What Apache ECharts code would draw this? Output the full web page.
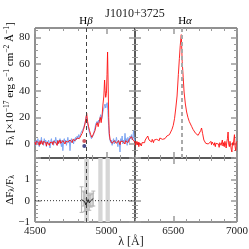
<!DOCTYPE html>
<html><head><meta charset="utf-8">
<script src="https://cdn.jsdelivr.net/npm/echarts@6/dist/echarts.min.js"></script>
<style>html,body{margin:0;padding:0;background:#fff}#c{width:249px;height:249px}</style>
</head><body><div id="c"></div>
<script>
// ---- data ----
const blueWaveL = [4500,4505,4510,4515,4520,4525,4530,4535,4540,4545,4550,4555,4560,4565,4570,4575,4580,4585,4590,4595,4600,4605,4610,4615,4620,4625,4630,4635,4640,4645,4650,4655,4660,4665,4670,4675,4680,4685,4690,4695,4700,4705,4710,4715,4720,4725,4730,4735,4740,4745,4750,4755,4760,4765,4770,4775,4780,4785,4790,4795,4800,4805,4810,4815,4820,4825,4830,4835,4840,4845,4850,4855,4860,4865,4870,4875,4880,4885,4890,4895,4900,4905,4910,4915,4920,4925,4930,4935,4940,4945,4950,4955,4960,4965,4970,4975,4980,4985,4990,4995,5000,5005,5010,5015,5020,5025,5030,5035,5040,5045,5050,5055,5060,5065,5070,5075,5080,5085,5090,5095,5100,5105,5110,5115,5120,5125,5130,5135,5140,5145,5150,5155,5160,5165,5170,5175,5180,5185,5190,5195,5200];
const blueFluxL = [2,-1,3,0,4,1,-2,3,1,5,0,2,-1,4,1,3,-2,2,0,3,1,-3,2,4,0,2,-1,3,1,5,2,-1,3,0,2,4,1,-2,3,-5,2,4,1,3,-1,2,5,1,3,-5,2,4,1,3,0,4,2,5,3,6,4,7,5,6,8,7,10,9,12,14,16,18,21,17,14,11,9,7,6,4,3,5,7,10,12,15,14,17,15,18,16,20,22,18,20,24,26,28,30,27,29,31,25,14,6,3,1,3,-1,2,4,0,3,1,5,2,-2,3,1,-6,4,2,6,0,3,1,8,2,4,-1,5,3,1,6,4,7,3,5,10,2,4];
const redWaveL = [4500,4505,4510,4515,4520,4525,4530,4535,4540,4545,4550,4555,4560,4565,4570,4575,4580,4585,4590,4595,4600,4605,4610,4615,4620,4625,4630,4635,4640,4645,4650,4655,4660,4665,4670,4675,4680,4685,4690,4695,4700,4705,4710,4715,4720,4725,4730,4735,4740,4745,4750,4755,4760,4765,4770,4775,4780,4785,4790,4795,4800,
  4810,4820,4830,4840,4850,4856,4862,4868,4875,4882,4890,4898,4905,4912,4920,4928,4935,4942,4950,4957,4963,4970,4976,4982,4987,4991,4995,5000,5004,5008,5012,5016,5020,5026,
  5030,5035,5040,5045,5050,5055,5060,5065,5070,5075,5080,5085,5090,5095,5100,5105,5110,5115,5120,5125,5130,5135,5140,5145,5150,5155,5160,5165,5170,5175,5180,5185,5190,5195,5200];
const redFluxL = [1.5,-0.5,2,0.5,3,1,-1,2,0,2.5,1,-0.5,2,0.5,3,1,-1.5,1.5,0.5,2.5,-1,1,2.5,0,1.5,-0.5,2,0.5,3,1,2,-1,2.5,0.5,1.5,3,0.5,2,-0.5,2.5,1,3,0,2,1,3.5,1.5,2.5,0.5,3,1.5,2.5,1,3.5,2,3,2.5,4,3,4.5,4,
  4,6,8,11,15,19,23,17,13,10,7,5,3.5,6,10,14,16,13,17,20,16,22,30,36,48,40,35,38,52,69,45,20,8,3,
  1.5,3,0.5,2,-0.5,2.5,1,3,0.5,2,-1,2.5,1,-0.5,2,3,0.5,2,1,3,0,2.5,1.5,3,1,2.5,3.5,2,4,5.5,4.5,3,2,3.5,1.5];
const redWaveR = [6200,6205,6210,6215,6220,6225,6230,6235,6240,6245,6250,6255,6260,6265,6270,6275,6280,6285,6290,6295,6300,6305,6310,6315,6320,6325,6330,6335,6340,6345,6350,6355,6360,6365,6370,6375,6380,6385,6390,6395,6400,6405,6410,6415,6420,6425,6430,6435,6440,6445,6450,6455,6460,6465,6470,6475,6480,
  6490,6500,6510,6520,6530,6540,6548,6555,6563,6570,6578,6585,6595,6605,6615,6625,6635,6645,6655,6665,6675,6685,6695,6705,6715,6722,6730,6740,
  6750,6755,6760,6765,6770,6775,6780,6785,6790,6795,6800,6805,6810,6815,6820,6825,6830,6835,6840,6845,6850,6855,6860,6865,6870,6875,6880,6885,6890,6895,6900,6905,6910,6915,6920,6925,6930,6935,6940,6945,6950,6955,6960,6965,6970,6975,6980,6985,6990,6995,7000];
const redFluxR = [2,-1,0.5,2,-0.5,1.5,-2,1,2.5,0,-1.5,1,2,0,2.5,1,3,1.5,3.5,4.5,6,4.5,3,4,2,3,1.5,3.5,2,1,3,2,4,2.5,3.5,2,4,3,2.5,4.5,3,4,5,3.5,4.5,3,5,4,5.5,4.5,6,5,6.5,5.5,7,8,8.5,
  11,14,19,27,36,52,64,74,82,62,50,39,30,24,20,17,15,13,11,9.5,8,7,6.5,7,10,12,8,3,
  2,0.5,1.5,-0.5,2,0,1,-1.5,1,2,-0.5,1.5,0,2.5,-1,1,-2,0.5,2,-1,1.5,0,-2.5,1,2,-1,0.5,3,-1.5,1,-2,2,0,-3,1.5,4,9,0,-2,2,0.5,-4,-6,1,-1,3,7,-2,-5,1,2];
const dotWave = [4845, 4845];
const dotFlux = [2.2, -1.5];
const resWave = [4826,4838,4848,4856,4864,4872,4880,4890,4900,4908];
const resVal  = [0.05,0.1,-0.05,-0.2,-0.15,0.05,-0.1,0.0,0.05,0.1];
const resErr  = [0.6,0.35,0.45,0.3,0.25,0.3,0.35,0.3,0.3,0.35];
const maskBands = [[4845,4878],[4943,4973],[4994,5024]];
const lineHb = 4861, lineHa = 6563;
const xMajorL = [4500,5000], xMinorL = [4600,4700,4800,4900,5100,5200];
const xMajorR = [6500,7000], xMinorR = [6300,6400,6600,6700,6800,6900];
const yMajorT = [0,20,40,60,80], yMinorT = [-10,-5,5,10,15,25,30,35,45,50,55,65,70,75,85];
const yMajorB = [-1,0,1,2], yMinorB = [-0.8,-0.6,-0.4,-0.2,0.2,0.4,0.6,0.8,1.2,1.4,1.6,1.8];
const yLabelsB = [-1,0,1];

const zip = (a,b) => a.map((v,i)=>[v,b[i]]);
const FONT = 'Liberation Serif';
const TICKC = '#9a9a9a';
const fmt = v => (v<0? '\u2212'+Math.abs(v) : String(v));

const grids = [
  {left:35, top:28, width:100, height:130},
  {left:135, top:28, width:102, height:130},
  {left:35, top:158, width:100, height:64},
  {left:135, top:158, width:102, height:64}
].map(g => Object.assign(g, {show:true, borderColor:'#222', borderWidth:1, containLabel:false, outerBoundsMode:'none'}));

const xAxes = [], yAxes = [];
function addX(gi, min, max, majors, minors, labels) {
  const base = {type:'value', gridIndex:gi, min, max, splitLine:{show:false}, axisLine:{show:false, onZero:false}};
  const idx = xAxes.length;
  xAxes.push(Object.assign({}, base, {position:'bottom',
    axisTick:{show:true, inside:true, length:6, customValues:majors, lineStyle:{color:TICKC, width:1.5}},
    axisLabel:{show:!!labels, customValues:labels||[], fontFamily:FONT, fontSize:11, color:'#222', margin:4, formatter:fmt}}));
  xAxes.push(Object.assign({}, base, {position:'bottom',
    axisTick:{show:true, inside:true, length:3, customValues:minors, lineStyle:{color:TICKC, width:1}}, axisLabel:{show:false}}));
  xAxes.push(Object.assign({}, base, {position:'top',
    axisTick:{show:true, inside:true, length:6, customValues:majors, lineStyle:{color:TICKC, width:1.5}}, axisLabel:{show:false}}));
  xAxes.push(Object.assign({}, base, {position:'top',
    axisTick:{show:true, inside:true, length:3, customValues:minors, lineStyle:{color:TICKC, width:1}}, axisLabel:{show:false}}));
  return idx;
}
function addY(gi, min, max, majors, minors, labels) {
  const base = {type:'value', gridIndex:gi, min, max, splitLine:{show:false}, axisLine:{show:false, onZero:false}};
  const idx = yAxes.length;
  yAxes.push(Object.assign({}, base, {position:'left',
    axisTick:{show:true, inside:true, length:6, customValues:majors, lineStyle:{color:TICKC, width:1.5}},
    axisLabel:{show:!!labels, customValues:labels||[], fontFamily:FONT, fontSize:11, color:'#222', margin:5, formatter:fmt}}));
  yAxes.push(Object.assign({}, base, {position:'left',
    axisTick:{show:true, inside:true, length:3, customValues:minors, lineStyle:{color:TICKC, width:1}}, axisLabel:{show:false}}));
  yAxes.push(Object.assign({}, base, {position:'right',
    axisTick:{show:true, inside:true, length:6, customValues:majors, lineStyle:{color:TICKC, width:1.5}}, axisLabel:{show:false}}));
  yAxes.push(Object.assign({}, base, {position:'right',
    axisTick:{show:true, inside:true, length:3, customValues:minors, lineStyle:{color:TICKC, width:1}}, axisLabel:{show:false}}));
  return idx;
}
const xTL = addX(0, 4500, 5200, xMajorL, xMinorL, null);
const xTR = addX(1, 6200, 7000, xMajorR, xMinorR, null);
const xBL = addX(2, 4500, 5200, xMajorL, xMinorL, xMajorL);
const xBR = addX(3, 6200, 7000, xMajorR, xMinorR, xMajorR);
const yTL = addY(0, -10.5, 87, yMajorT, yMinorT, yMajorT);
const yTR = addY(1, -10.5, 87, yMajorT, yMinorT, null);
const yBL = addY(2, -1, 2, yMajorB, yMinorB, yLabelsB);
const yBR = addY(3, -1, 2, yMajorB, yMinorB, null);

const noSym = {showSymbol:false, symbol:'none', animation:false};
const series = [
  Object.assign({type:'line', name:'blueL', xAxisIndex:xTL, yAxisIndex:yTL, data:zip(blueWaveL, blueFluxL),
    lineStyle:{color:'#7ea6f2', width:1}, z:2,
    markLine:{silent:true, symbol:'none', label:{show:false}, lineStyle:{color:'#444', type:[4,3], width:1}, data:[{xAxis:lineHb}]}}, noSym),
  Object.assign({type:'line', name:'redL', xAxisIndex:xTL, yAxisIndex:yTL, data:zip(redWaveL, redFluxL),
    lineStyle:{color:'#ff0f0f', width:1, opacity:0.9}, z:3}, noSym),
  Object.assign({type:'line', name:'redR', xAxisIndex:xTR, yAxisIndex:yTR, data:zip(redWaveR, redFluxR),
    lineStyle:{color:'#ff0f0f', width:1, opacity:0.9}, z:3,
    markLine:{silent:true, symbol:'none', label:{show:false}, lineStyle:{color:'#aaa', type:[4,3], width:2}, data:[{xAxis:lineHa}]}}, noSym),
  {type:'scatter', xAxisIndex:xTL, yAxisIndex:yTL, symbolSize:4, animation:false, z:4,
    data:[{value:[dotWave[0],dotFlux[0]], itemStyle:{color:'#c0303a'}},{value:[dotWave[1],dotFlux[1]], itemStyle:{color:'#1a2370'}}]},
  Object.assign({type:'line', name:'zero', xAxisIndex:xBL, yAxisIndex:yBL, data:[[4500,0],[5200,0]],
    lineStyle:{color:'#333', width:1, type:[1,2]}, z:2,
    markArea:{silent:true, itemStyle:{color:'#d6d6d6'}, data: maskBands.map(b=>[{xAxis:b[0]},{xAxis:b[1]}])},
    markLine:{silent:true, symbol:'none', label:{show:false}, lineStyle:{color:'#444', type:[4,3], width:1}, data:[{xAxis:lineHb}]}}, noSym),
  {type:'custom', xAxisIndex:xBL, yAxisIndex:yBL, animation:false, z:3,
    data: resWave.map((w,i)=>[w,resVal[i],resErr[i]]),
    renderItem(params, api){
      const x=api.value(0), y=api.value(1), e=api.value(2);
      const t=api.coord([x,y+e]), b=api.coord([x,y-e]);
      const st={stroke:'#b5b5b5', lineWidth:1};
      return {type:'group', children:[
        {type:'line', shape:{x1:t[0],y1:t[1],x2:b[0],y2:b[1]}, style:st},
        {type:'line', shape:{x1:t[0]-2,y1:t[1],x2:t[0]+2,y2:t[1]}, style:st},
        {type:'line', shape:{x1:b[0]-2,y1:b[1],x2:b[0]+2,y2:b[1]}, style:st}
      ]};
    }},
  Object.assign({type:'line', xAxisIndex:xBL, yAxisIndex:yBL, data:zip(resWave,resVal),
    lineStyle:{color:'#222', width:1}, z:4}, noSym)
];

const sup = {fontSize:7.5, padding:[0,0,6,0], fontFamily:FONT, color:'#222'};
const sub = {fontSize:7.5, padding:[4,0,0,0], fontFamily:FONT, color:'#222'};
const nrm = {fontSize:11, fontFamily:FONT, color:'#222'};
const graphic = [
  {type:'text', x:135, y:14, style:{text:'J1010+3725', font:'12px '+FONT, fill:'#222', align:'center', verticalAlign:'middle'}},
  {type:'text', x:86, y:21, style:{text:'{n|H}{g|β}', rich:{n:nrm, g:{fontSize:11, fontFamily:FONT, fontStyle:'italic', color:'#222'}}, align:'center', verticalAlign:'middle'}},
  {type:'text', x:185, y:21, style:{text:'{n|H}{g|α}', rich:{n:nrm, g:{fontSize:11, fontFamily:FONT, fontStyle:'italic', color:'#222'}}, align:'center', verticalAlign:'middle'}},
  {type:'text', x:131, y:242, style:{text:'λ [Å]', font:'12px '+FONT, fill:'#222', align:'center', verticalAlign:'middle'}},
  {type:'text', x:10, y:84, rotation:Math.PI/2,
    style:{text:'{n|F}{b|λ}{n| [×10}{p|−17}{n| erg s}{p|−1}{n| cm}{p|−2}{n| Å}{p|−1}{n|]}', rich:{n:nrm, b:sub, p:sup}, align:'center', verticalAlign:'middle'}},
  {type:'text', x:10, y:190, rotation:Math.PI/2,
    style:{text:'{n|ΔF}{b|λ}{n|/F}{b|λ}', rich:{n:nrm, b:sub}, align:'center', verticalAlign:'middle'}}
];

const chart = echarts.init(document.getElementById('c'), null, {renderer:'canvas'});
chart.setOption({animation:false, backgroundColor:'#fff', grid:grids, xAxis:xAxes, yAxis:yAxes, series, graphic});
</script></body></html>
